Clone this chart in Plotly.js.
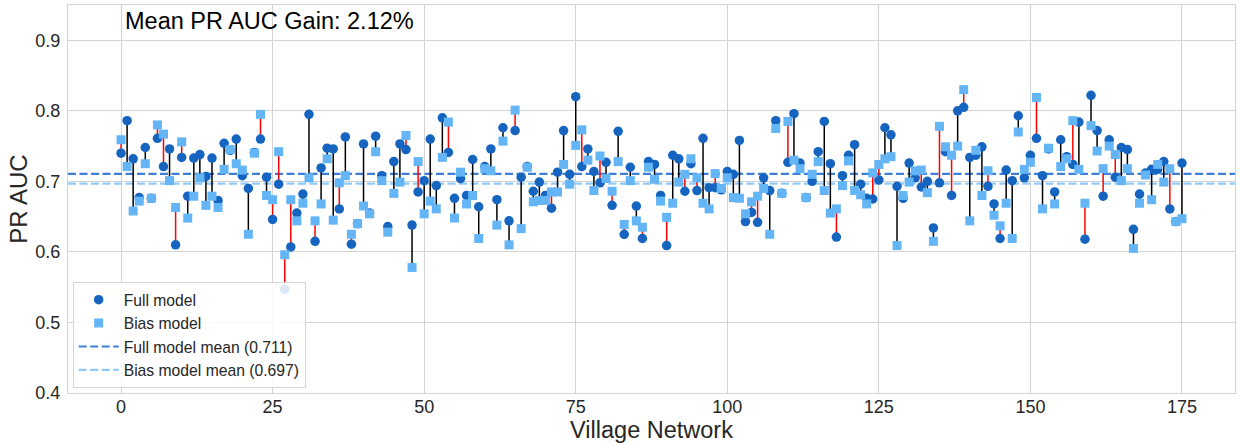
<!DOCTYPE html>
<html>
<head>
<meta charset="utf-8">
<script src="https://cdn.plot.ly/plotly-3.0.1.min.js"></script>
<style>html,body{margin:0;padding:0;background:#fff;}#chart{width:1240px;height:443px;}</style>
</head>
<body>
<div id="chart"></div>
<script>
const fullModel = [0.740,0.786,0.732,0.677,0.748,0.676,0.761,0.721,0.746,0.610,
0.734,0.679,0.733,0.738,0.707,0.733,0.673,0.754,0.744,0.760,
0.708,0.690,0.741,0.760,0.706,0.646,0.696,0.547,0.607,0.655,
0.682,0.795,0.615,0.719,0.747,0.746,0.661,0.763,0.611,0.640,
0.753,0.655,0.764,0.708,0.636,0.728,0.753,0.745,0.638,0.685,
0.701,0.760,0.694,0.790,0.741,0.676,0.704,0.680,0.731,0.664,
0.721,0.746,0.674,0.776,0.644,0.772,0.706,0.721,0.686,0.699,
0.680,0.662,0.713,0.772,0.710,0.820,0.721,0.746,0.714,0.698,
0.727,0.666,0.771,0.625,0.720,0.665,0.619,0.728,0.724,0.680,
0.609,0.737,0.732,0.686,0.725,0.687,0.761,0.691,0.691,0.688,
0.714,0.710,0.758,0.643,0.656,0.642,0.705,0.687,0.786,0.683,
0.727,0.796,0.726,0.677,0.700,0.742,0.785,0.725,0.621,0.708,
0.737,0.752,0.696,0.676,0.675,0.702,0.776,0.766,0.693,0.676,
0.726,0.705,0.692,0.700,0.634,0.698,0.742,0.680,0.800,0.805,
0.734,0.737,0.749,0.693,0.668,0.619,0.716,0.701,0.793,0.705,
0.737,0.761,0.708,0.746,0.685,0.759,0.735,0.724,0.784,0.618,
0.822,0.772,0.679,0.759,0.706,0.748,0.745,0.632,0.682,0.712,
0.717,0.717,0.728,0.661,0.643,0.726];

const biasModel = [0.759,0.721,0.658,0.672,0.725,0.676,0.780,0.767,0.701,0.663,
0.756,0.648,0.679,0.705,0.666,0.679,0.663,0.717,0.745,0.725,
0.716,0.625,0.740,0.795,0.680,0.674,0.742,0.596,0.674,0.644,
0.669,0.705,0.644,0.668,0.732,0.645,0.698,0.708,0.625,0.640,
0.665,0.654,0.742,0.701,0.628,0.683,0.699,0.765,0.578,0.728,
0.654,0.672,0.661,0.734,0.784,0.648,0.713,0.668,0.680,0.619,
0.718,0.715,0.638,0.757,0.610,0.801,0.633,0.720,0.671,0.673,
0.673,0.685,0.685,0.724,0.696,0.751,0.773,0.730,0.687,0.736,
0.704,0.686,0.728,0.639,0.701,0.644,0.635,0.720,0.703,0.672,
0.649,0.669,0.699,0.710,0.732,0.705,0.669,0.661,0.711,0.690,
0.705,0.677,0.676,0.654,0.671,0.679,0.690,0.625,0.775,0.683,
0.785,0.730,0.718,0.677,0.710,0.728,0.687,0.655,0.661,0.694,
0.729,0.687,0.681,0.668,0.712,0.724,0.732,0.735,0.609,0.680,
0.699,0.715,0.716,0.684,0.615,0.778,0.749,0.737,0.750,0.830,
0.644,0.744,0.680,0.715,0.652,0.637,0.669,0.619,0.770,0.717,
0.727,0.819,0.661,0.747,0.668,0.721,0.732,0.786,0.717,0.669,
0.779,0.743,0.718,0.750,0.738,0.701,0.718,0.605,0.669,0.709,
0.674,0.724,0.699,0.718,0.643,0.647];

const villages = fullModel.map((_, i) => i);
const xTicks = [0, 25, 50, 75, 100, 125, 150, 175];
const yTicks = [0.4, 0.5, 0.6, 0.7, 0.8, 0.9];
const yTickText = ["0.4", "0.5", "0.6", "0.7", "0.8", "0.9"];
const titleText = "Mean PR AUC Gain: 2.12%";
const legendNames = ["Full model", "Bias model", "Full model mean (0.711)", "Bias model mean (0.697)"];

const mean = a => a.reduce((s, v) => s + v, 0) / a.length;
const fullMean = mean(fullModel);
const biasMean = mean(biasModel);
const xRange = [-8.75, 183.75];

const gainX = [], gainY = [], lossX = [], lossY = [];
villages.forEach(i => {
  const f = fullModel[i], b = biasModel[i];
  if (f >= b) { gainX.push(i, i, null); gainY.push(f, b, null); }
  else { lossX.push(i, i, null); lossY.push(f, b, null); }
});

const FONT = "Liberation Sans, Arial, sans-serif";
const traces = [
  {x: xRange, y: [fullMean, fullMean], mode: "lines", name: legendNames[2],
   line: {color: "#3d7fd6", width: 2.2, dash: "8px,3.5px"}, legendrank: 3, hoverinfo: "skip"},
  {x: xRange, y: [biasMean, biasMean], mode: "lines", name: legendNames[3],
   line: {color: "#90caf9", width: 2.2, dash: "8px,3.5px"}, legendrank: 4, hoverinfo: "skip"},
  {x: gainX, y: gainY, mode: "lines", line: {color: "#000000", width: 1.5}, showlegend: false, hoverinfo: "skip"},
  {x: lossX, y: lossY, mode: "lines", line: {color: "#ff0000", width: 1.5}, showlegend: false, hoverinfo: "skip"},
  {x: villages, y: fullModel, mode: "markers", name: legendNames[0],
   marker: {symbol: "circle", size: 9.5, color: "#1565c0"}, legendrank: 1},
  {x: villages, y: biasModel, mode: "markers", name: legendNames[1],
   marker: {symbol: "square", size: 9, color: "#64b5f6"}, legendrank: 2}
];

const layout = {
  width: 1240, height: 443,
  margin: {l: 68, r: 5, t: 5, b: 50},
  paper_bgcolor: "#ffffff", plot_bgcolor: "#ffffff",
  font: {family: FONT, color: "#262626"},
  showlegend: true,
  legend: {x: 0.004, y: 0.013, xanchor: "left", yanchor: "bottom", itemwidth: 40,
    bgcolor: "rgba(255,255,255,0.85)", bordercolor: "#d5d5d5", borderwidth: 1,
    font: {family: FONT, size: 15.7, color: "#262626"}},
  xaxis: {range: xRange, tickvals: xTicks, showgrid: true, gridcolor: "#d3d3d3", gridwidth: 1,
    zeroline: false, showline: true, mirror: true, linecolor: "#d3d3d3", linewidth: 1,
    ticklabelstandoff: -3,
    tickfont: {family: FONT, size: 18, color: "#262626"},
    title: {text: "Village Network", font: {family: FONT, size: 23.5, color: "#262626"}, standoff: 1}},
  yaxis: {range: [0.4, 0.95], tickvals: yTicks, ticktext: yTickText, showgrid: true, gridcolor: "#d3d3d3", gridwidth: 1,
    zeroline: false, showline: true, mirror: true, linecolor: "#d3d3d3", linewidth: 1,
    ticklabelstandoff: 3,
    tickfont: {family: FONT, size: 18, color: "#262626"},
    title: {text: "PR AUC", font: {family: FONT, size: 24, color: "#262626"}, standoff: 0}},
  annotations: [{text: titleText, xref: "paper", yref: "paper", x: 0.047, y: 0.997,
    xanchor: "left", yanchor: "top", showarrow: false,
    font: {family: FONT, size: 23.5, color: "#000000"}}]
};

Plotly.newPlot("chart", traces, layout, {displayModeBar: false, staticPlot: true});
</script>
</body>
</html>
